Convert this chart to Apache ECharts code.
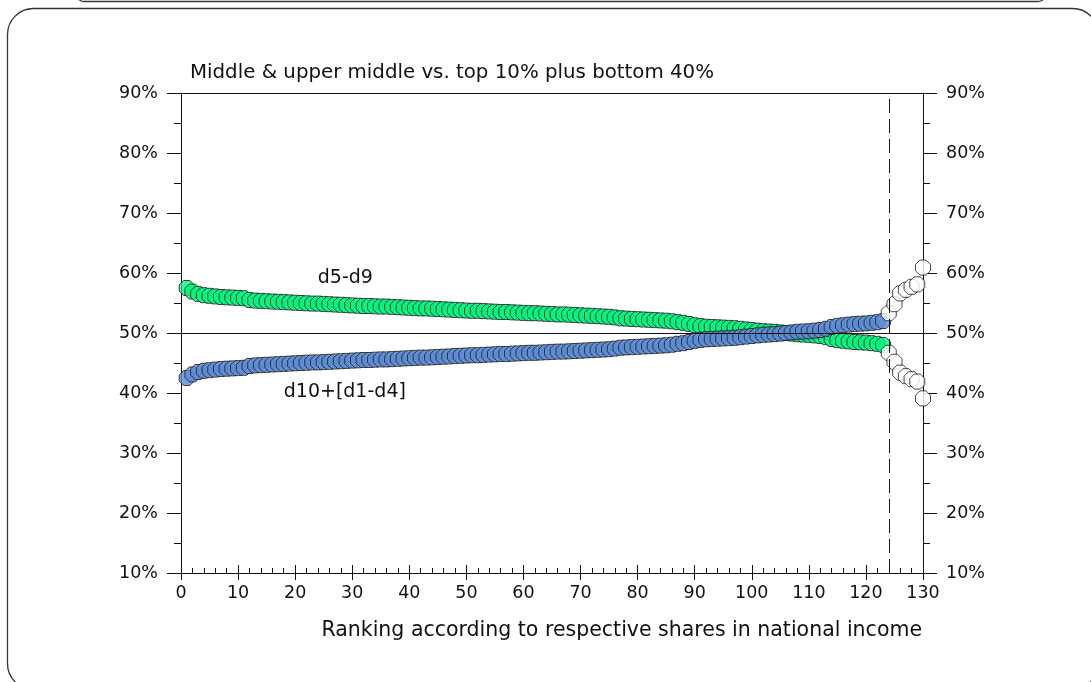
<!DOCTYPE html>
<html>
<head>
<meta charset="utf-8">
<script src="https://cdn.jsdelivr.net/npm/echarts@6/dist/echarts.min.js"></script>
<style>
  html, body { margin: 0; padding: 0; background: #ffffff; }
  #chart { width: 1091px; height: 682px; }
</style>
</head>
<body>
<div id="chart"></div>
<script>
// Share in national income of deciles 5-9 (middle & upper middle), by country rank
const middleShare = [
  57.5, 56.9, 56.5, 56.3, 56.2, 56.1, 56.0, 55.95, 55.9, 55.85,
  55.8, 55.5, 55.4, 55.35, 55.3, 55.25, 55.2, 55.15, 55.1, 55.05,
  55.0, 54.95, 54.9, 54.9, 54.85, 54.8, 54.75, 54.7, 54.65, 54.6,
  54.55, 54.5, 54.5, 54.45, 54.4, 54.4, 54.35, 54.3, 54.25, 54.2,
  54.15, 54.1, 54.1, 54.05, 54.0, 53.95, 53.9, 53.85, 53.8, 53.75,
  53.7, 53.7, 53.65, 53.6, 53.55, 53.5, 53.5, 53.45, 53.4, 53.35,
  53.3, 53.3, 53.25, 53.2, 53.15, 53.1, 53.1, 53.05, 53.0, 52.95,
  52.9, 52.85, 52.8, 52.75, 52.7, 52.6, 52.45, 52.4, 52.35, 52.3,
  52.25, 52.2, 52.15, 52.1, 52.05, 51.95, 51.8, 51.7, 51.5, 51.3,
  51.15, 51.05, 51.0, 50.95, 50.9, 50.85, 50.8, 50.7, 50.6, 50.5,
  50.4, 50.3, 50.25, 50.2, 50.1, 50.0, 49.9, 49.8, 49.75, 49.7,
  49.6, 49.5, 49.3, 49.0, 48.8, 48.7, 48.6, 48.5, 48.45, 48.4,
  48.3, 48.2, 48.0, 46.7, 45.2, 43.4, 42.8, 42.3, 41.9, 39.1
];

// Share of the top decile plus deciles 1-4, by country rank
const topBottomShare = [
  42.5, 43.1, 43.5, 43.7, 43.8, 43.9, 44.0, 44.05, 44.1, 44.15,
  44.2, 44.5, 44.6, 44.65, 44.7, 44.75, 44.8, 44.85, 44.9, 44.95,
  45.0, 45.05, 45.1, 45.1, 45.15, 45.2, 45.25, 45.3, 45.35, 45.4,
  45.45, 45.5, 45.5, 45.55, 45.6, 45.6, 45.65, 45.7, 45.75, 45.8,
  45.85, 45.9, 45.9, 45.95, 46.0, 46.05, 46.1, 46.15, 46.2, 46.25,
  46.3, 46.3, 46.35, 46.4, 46.45, 46.5, 46.5, 46.55, 46.6, 46.65,
  46.7, 46.7, 46.75, 46.8, 46.85, 46.9, 46.9, 46.95, 47.0, 47.05,
  47.1, 47.15, 47.2, 47.25, 47.3, 47.4, 47.55, 47.6, 47.65, 47.7,
  47.75, 47.8, 47.85, 47.9, 47.95, 48.05, 48.2, 48.3, 48.5, 48.7,
  48.85, 48.95, 49.0, 49.05, 49.1, 49.15, 49.2, 49.3, 49.4, 49.5,
  49.6, 49.7, 49.75, 49.8, 49.9, 50.0, 50.1, 50.2, 50.25, 50.3,
  50.4, 50.5, 50.7, 51.0, 51.2, 51.3, 51.4, 51.5, 51.55, 51.6,
  51.7, 51.8, 52.0, 53.3, 54.8, 56.6, 57.2, 57.7, 58.1, 60.9
];

// Ranks from this one on are drawn as open markers, right of the cut-off line
const cutoffRank = 124;
const yTicks = { min: 10, max: 90, step: 10 };
const xTicks = { min: 0, max: 130, step: 10 };

const titleText = 'Middle & upper middle vs. top 10% plus bottom 40%';
const xAxisTitle = 'Ranking according to respective shares in national income';
const middleLabel = 'd5-d9';
const topBottomLabel = 'd10+[d1-d4]';

const FONT = 'DejaVu Sans';
const INK = '#111111';

// Octagonal marker outline
const octagon = 'path://M-0.414,-1L0.414,-1L1,-0.414L1,0.414L0.414,1L-0.414,1L-1,0.414L-1,-0.414Z';

function toPoints(values, fromRank, toRank) {
  const pts = [];
  values.forEach(function (v, i) {
    const rank = i + 1;
    if (rank >= fromRank && rank <= toRank) pts.push([rank, v]);
  });
  return pts;
}

const chart = echarts.init(document.getElementById('chart'), null, { renderer: 'canvas' });

const markerBase = {
  type: 'scatter',
  symbol: octagon,
  symbolSize: 15,
  xAxisIndex: 0,
  yAxisIndex: 0,
  silent: true,
  animation: false
};

function yAxisFor(position) {
  return {
    type: 'value',
    position: position,
    min: yTicks.min,
    max: yTicks.max,
    interval: yTicks.step,
    axisLine: { show: true, onZero: false, lineStyle: { color: INK, width: 1 } },
    axisTick: { show: true, inside: false, length: 14, lineStyle: { color: INK, width: 1 } },
    minorTick: { show: true, splitNumber: 2, length: 7, lineStyle: { color: INK, width: 1 } },
    splitLine: { show: false },
    axisLabel: {
      formatter: '{value}%',
      fontFamily: FONT,
      fontSize: 17.5,
      color: INK,
      margin: 23
    }
  };
}

const option = {
  backgroundColor: '#ffffff',
  animation: false,
  grid: { left: 181, right: 168, top: 93, bottom: 109, containLabel: false },
  xAxis: [
    {
      type: 'value',
      position: 'bottom',
      min: xTicks.min,
      max: xTicks.max,
      interval: xTicks.step,
      axisLine: { show: true, onZero: false, lineStyle: { color: INK, width: 1 } },
      axisTick: { show: true, inside: false, length: 7, lineStyle: { color: INK, width: 1 } },
      splitLine: { show: false },
      axisLabel: { fontFamily: FONT, fontSize: 17.5, color: INK, margin: 11 }
    },
    {
      type: 'value',
      position: 'bottom',
      min: xTicks.min,
      max: xTicks.max,
      interval: xTicks.step,
      axisLine: { show: false, onZero: false },
      axisTick: { show: true, inside: true, length: 8, lineStyle: { color: INK, width: 1 } },
      minorTick: { show: true, splitNumber: 5, length: 5, lineStyle: { color: INK, width: 1 } },
      splitLine: { show: false },
      axisLabel: { show: false }
    },
    {
      type: 'value',
      position: 'top',
      min: xTicks.min,
      max: xTicks.max,
      axisLine: { show: true, onZero: false, lineStyle: { color: INK, width: 1 } },
      axisTick: { show: false },
      splitLine: { show: false },
      axisLabel: { show: false }
    }
  ],
  yAxis: [yAxisFor('left'), yAxisFor('right')],
  series: [
    Object.assign({}, markerBase, {
      name: middleLabel,
      data: toPoints(middleShare, 1, cutoffRank - 1),
      itemStyle: { color: '#00f57e', borderColor: '#1a1a1a', borderWidth: 1 },
      markPoint: {
        symbol: 'circle',
        symbolSize: 0,
        silent: true,
        label: { show: true, formatter: middleLabel, fontFamily: FONT, fontSize: 19, color: INK, position: 'inside' },
        data: [{ coord: [28.8, 59.2] }]
      }
    }),
    Object.assign({}, markerBase, {
      name: topBottomLabel,
      data: toPoints(topBottomShare, 1, cutoffRank - 1),
      itemStyle: { color: '#5b8bd4', borderColor: '#1a1a1a', borderWidth: 1 },
      markPoint: {
        symbol: 'circle',
        symbolSize: 0,
        silent: true,
        label: { show: true, formatter: topBottomLabel, fontFamily: FONT, fontSize: 19, color: INK, position: 'inside' },
        data: [{ coord: [28.7, 40.1] }]
      }
    }),
    Object.assign({}, markerBase, {
      name: topBottomLabel + ' (open)',
      data: toPoints(topBottomShare, cutoffRank, xTicks.max),
      itemStyle: { color: '#ffffff', borderColor: '#1a1a1a', borderWidth: 1 }
    }),
    Object.assign({}, markerBase, {
      name: middleLabel + ' (open)',
      data: toPoints(middleShare, cutoffRank, xTicks.max),
      itemStyle: { color: '#ffffff', borderColor: '#1a1a1a', borderWidth: 1 },
      markLine: {
        silent: true,
        symbol: 'none',
        label: { show: false },
        animation: false,
        data: [
          { yAxis: 50, lineStyle: { color: INK, width: 1, type: 'solid' } },
          { xAxis: cutoffRank, lineStyle: { color: INK, width: 1, type: [14, 6] } }
        ]
      }
    })
  ],
  graphic: [
    // page frame with rounded corners
    {
      type: 'rect',
      silent: true,
      z: -10,
      shape: { x: 7.5, y: 8.5, width: 1091, height: 681, r: 26 },
      style: { fill: 'none', stroke: '#333333', lineWidth: 1.3 }
    },
    // lower edge of the panel above
    {
      type: 'rect',
      silent: true,
      z: -10,
      shape: { x: 76, y: -40, width: 970, height: 41.5, r: 8 },
      style: { fill: 'none', stroke: '#333333', lineWidth: 1.3 }
    },
    {
      type: 'text',
      silent: true,
      x: 190,
      y: 73,
      style: { text: titleText, fontFamily: FONT, fontSize: 19.8, fill: INK, verticalAlign: 'middle', align: 'left' }
    },
    {
      type: 'text',
      silent: true,
      x: 922,
      y: 631,
      style: { text: xAxisTitle, fontFamily: FONT, fontSize: 20.5, fill: INK, verticalAlign: 'middle', align: 'right' }
    }
  ]
};

chart.setOption(option);
</script>
</body>
</html>
